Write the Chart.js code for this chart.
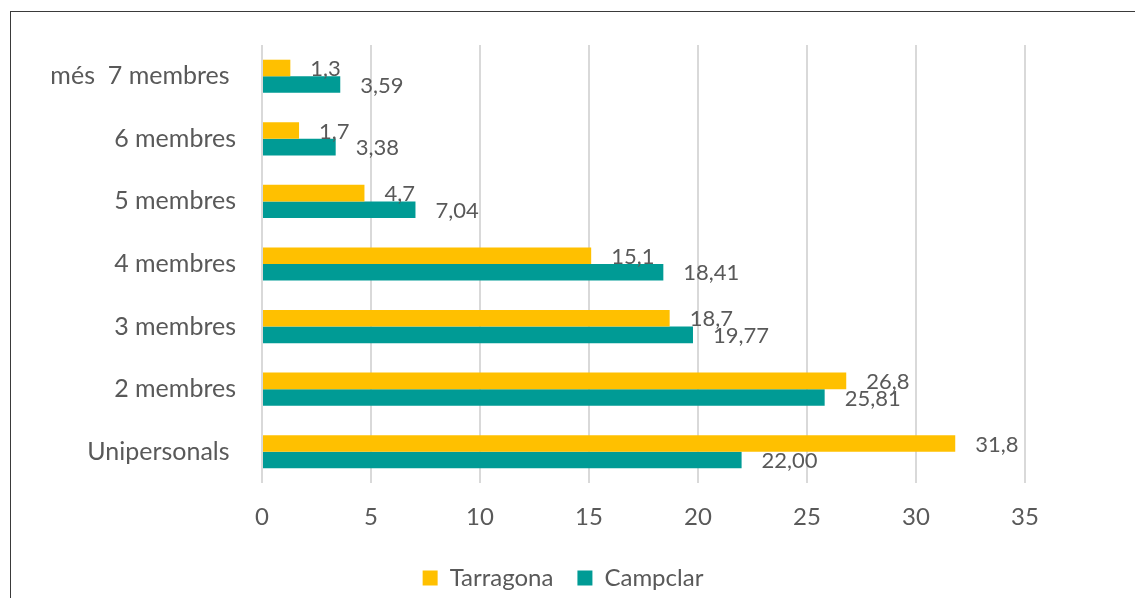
<!DOCTYPE html>
<html>
<head>
<meta charset="utf-8">
<script src="https://cdn.jsdelivr.net/npm/chart.js@4.4.1/dist/chart.umd.min.js"></script>
<style>
  html, body { margin: 0; padding: 0; background: #fff; overflow: hidden; }
  #frame {
    position: absolute; left: 10px; top: 11px;
    width: 1140px; height: 600px;
    border: 1px solid #3a3a3a;
    background: #fff;
  }
  #wrap { position: absolute; left: 0; top: 0; width: 1104px; height: 588px; }
</style>
</head>
<body>
<div id="frame">
  <div id="wrap"><canvas id="householdChart"></canvas></div>
</div>
<script>
// Household size, Tarragona vs Campclar (%)
const categories = ['més  7 membres ', '6 membres', '5 membres', '4 membres', '3 membres', '2 membres', 'Unipersonals '];
const tarragona = [1.3, 1.7, 4.7, 15.1, 18.7, 26.8, 31.8];
const campclar = [3.59, 3.38, 7.04, 18.41, 19.77, 25.81, 22.00];
const xTicks = [0, 5, 10, 15, 20, 25, 30, 35];

const FONT = "Lato, 'Open Sans', sans-serif";
const TEXT = '#595959';

Chart.defaults.font.family = FONT;
Chart.defaults.color = TEXT;

// Excel-style value labels to the right of each bar, comma decimals
const valueLabels = {
    id: 'valueLabels',
    afterDatasetsDraw(chart) {
        const ctx = chart.ctx;
        ctx.save();
        ctx.font = '22px ' + FONT;
        ctx.fillStyle = TEXT;
        ctx.textAlign = 'left';
        ctx.textBaseline = 'middle';
        chart.data.datasets.forEach((ds, i) => {
            const meta = chart.getDatasetMeta(i);
            meta.data.forEach((bar, j) => {
                const txt = ds.data[j].toFixed(ds.decimals).replace('.', ',');
                ctx.fillText(txt, bar.x + 20, bar.y + 1);
            });
        });
        ctx.restore();
    }
};

// centre the legend on the whole frame, not on the padded area
const legendFullWidth = {
    id: 'legendFullWidth',
    afterLayout(chart) {
        if (chart.legend) {
            chart.legend.left = 0;
            chart.legend.right = chart.width;
        }
    }
};

const ctx = document.getElementById('householdChart');
new Chart(ctx, {
    type: 'bar',
    data: {
        labels: categories,
        datasets: [
            {
                label: 'Tarragona',
                data: tarragona,
                decimals: 1,
                backgroundColor: '#FFC000',
                barPercentage: 1,
                categoryPercentage: 0.53
            },
            {
                label: 'Campclar',
                data: campclar,
                decimals: 2,
                backgroundColor: '#009B95',
                barPercentage: 1,
                categoryPercentage: 0.53
            }
        ]
    },
    options: {
        indexAxis: 'y',
        responsive: true,
        maintainAspectRatio: false,
        animation: false,
        layout: { padding: { top: 20, right: 90, left: 0, bottom: 0 } },
        plugins: {
            legend: {
                position: 'bottom',
                labels: {
                    boxWidth: 15,
                    boxHeight: 15,
                    padding: 24,
                    font: { size: 24 },
                    color: TEXT
                }
            },
            tooltip: { enabled: false }
        },
        scales: {
            x: {
                min: 0,
                max: 35,
                afterBuildTicks: (axis) => { axis.ticks = xTicks.map(v => ({ value: v })); },
                afterFit: (axis) => { axis.height = 59; },
                grid: { color: '#D9D9D9', lineWidth: 2, drawTicks: false },
                border: { display: false },
                ticks: { padding: 20, font: { size: 24 }, color: TEXT }
            },
            y: {
                afterFit: (axis) => { axis.width = 251; },
                grid: { display: false },
                border: { display: false },
                ticks: { padding: 18, font: { size: 25 }, color: TEXT }
            }
        }
    },
    plugins: [valueLabels, legendFullWidth]
});
</script>
</body>
</html>
